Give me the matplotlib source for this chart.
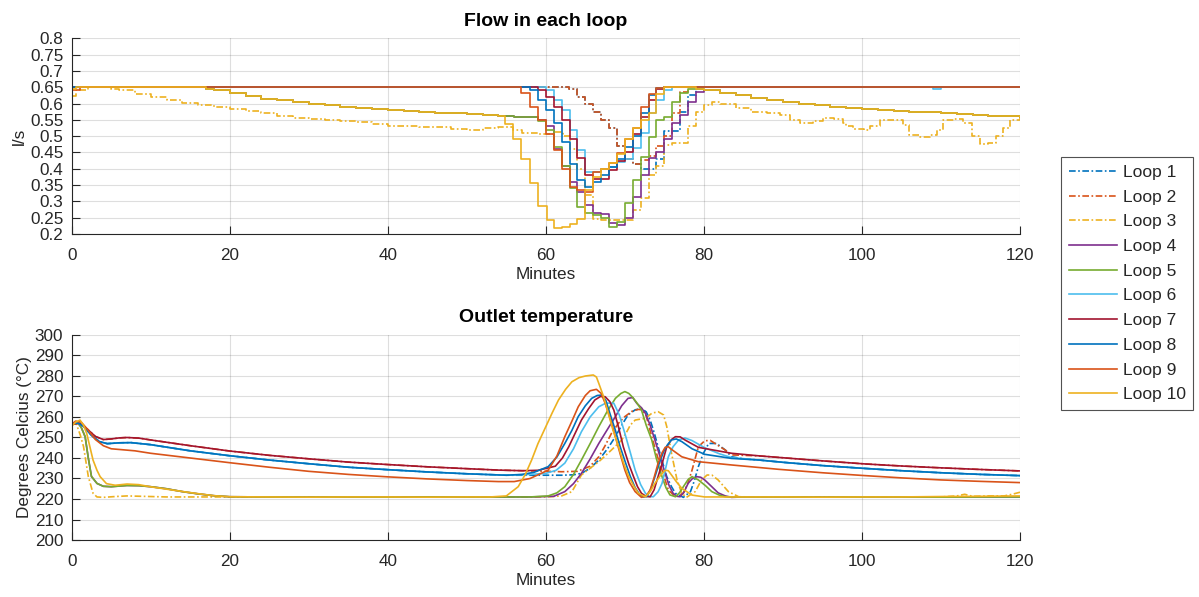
import numpy as np
import matplotlib
matplotlib.use('Agg')
import matplotlib.pyplot as plt

plt.rcParams['font.family'] = ['Liberation Sans', 'DejaVu Sans']

labels = ['Loop %d' % i for i in range(1, 11)]
colors = ['#0072BD', '#D95319', '#EDB120', '#7E2F8E', '#77AC30',
          '#4DBEEE', '#A2142F', '#0072BD', '#D95319', '#EDB120']

# ---------------- flow (l/s), stepped ----------------
flow_pre_t = [16, 17, 18, 20, 22, 24, 26, 28, 30, 32, 34, 36, 38, 40, 42, 44, 46, 48, 50, 52, 54]
flow_pre = [0.65, 0.645, 0.64, 0.632, 0.622, 0.615, 0.61, 0.604, 0.598, 0.594, 0.59, 0.586,
            0.583, 0.58, 0.577, 0.574, 0.572, 0.57, 0.568, 0.566, 0.563]
flow_post_t = [80, 82, 84, 86, 88, 90, 92, 94, 96, 98, 100, 102, 104, 106, 108, 110, 112, 114, 116, 118, 120]
flow_post = [0.64, 0.632, 0.625, 0.618, 0.61, 0.605, 0.60, 0.595, 0.589, 0.586, 0.583, 0.58,
             0.578, 0.575, 0.573, 0.571, 0.569, 0.566, 0.563, 0.561, 0.558]

flow1_t = [0, 62.9, 63.9, 65, 66, 67, 68, 69, 70, 71, 72, 73, 74, 75, 76, 77, 78, 79, 80, 120]
flow1 = [0.65, 0.645, 0.62, 0.60, 0.575, 0.55, 0.525, 0.47, 0.43, 0.415, 0.40, 0.40, 0.43,
         0.515, 0.515, 0.575, 0.627, 0.645, 0.65, 0.65]
flow2_t = [0, 62.9, 63.9, 65, 66, 67, 68, 69, 70, 71, 72, 73, 74, 75, 76, 77, 78, 120]
flow2 = [0.65, 0.645, 0.62, 0.60, 0.575, 0.55, 0.525, 0.47, 0.43, 0.415, 0.427, 0.44, 0.47,
         0.50, 0.57, 0.636, 0.65, 0.65]
flow3_t = [0, 0.5, 2, 5, 6, 8, 10, 12, 14, 16, 18, 20, 22, 24, 26, 28, 30, 32, 34, 36,
           38, 40, 42, 44, 46, 48, 50, 52, 54, 55.9, 57, 59, 61, 62.2, 63, 64, 65, 66, 67, 71,
           72, 73, 74, 75, 76, 78, 79, 80, 81, 82, 84, 86, 88, 89.6, 90.9, 92.2, 93.8, 95.1, 96.4, 97.6,
           98, 98.9, 100.2, 101, 102.3, 104, 105.2, 106, 107.3, 108.6, 109.5, 110.3, 111.6, 112.8, 113.9,
           114.9, 116, 117, 117.9, 118.7, 120]
flow3 = [0.622, 0.64, 0.65, 0.645, 0.64, 0.63, 0.62, 0.61, 0.603, 0.595, 0.59, 0.583, 0.577, 0.57,
         0.563, 0.557, 0.553, 0.549, 0.546, 0.542, 0.538, 0.532, 0.53, 0.528, 0.527, 0.522, 0.518,
         0.524, 0.527, 0.519, 0.51, 0.508, 0.512, 0.50, 0.46, 0.40, 0.32, 0.245, 0.243, 0.274,
         0.31, 0.38, 0.41, 0.473, 0.48, 0.53, 0.575, 0.595, 0.605, 0.60, 0.585, 0.575, 0.57, 0.565,
         0.55, 0.54, 0.545, 0.555, 0.553, 0.54, 0.53, 0.522, 0.52, 0.53, 0.55, 0.548, 0.535, 0.504,
         0.497, 0.504, 0.52, 0.55, 0.552, 0.54, 0.50, 0.476, 0.478, 0.50, 0.524, 0.55, 0.557]
flow4_dip_t = [56, 59, 60, 61, 62, 63, 64, 65, 66, 67, 68, 69, 70, 71, 72, 73, 74, 75, 76, 77, 78, 79]
flow4_dip = [0.56, 0.55, 0.53, 0.462, 0.41, 0.36, 0.33, 0.29, 0.265, 0.26, 0.235, 0.227, 0.25,
             0.314, 0.38, 0.432, 0.45, 0.49, 0.54, 0.565, 0.605, 0.635]
flow5_dip_t = [56, 59, 60, 61, 62, 63, 64, 65, 66, 67, 68, 69, 70, 71, 72, 73, 74, 75, 76, 77, 78, 79]
flow5_dip = [0.56, 0.545, 0.52, 0.468, 0.407, 0.34, 0.283, 0.265, 0.258, 0.25, 0.222, 0.237,
             0.294, 0.365, 0.437, 0.498, 0.55, 0.56, 0.605, 0.633, 0.645, 0.645]
flow6_t = [0, 60, 61, 62, 63, 64, 65, 66, 67, 68, 69, 70, 71, 72, 73, 74, 75, 76, 109, 110, 120]
flow6 = [0.65, 0.64, 0.61, 0.58, 0.52, 0.458, 0.39, 0.39, 0.40, 0.405, 0.42, 0.43, 0.465, 0.51,
         0.57, 0.61, 0.64, 0.65, 0.645, 0.65, 0.65]
flow7_t = [0, 59, 60, 61, 62, 63, 64, 65, 66, 67, 68, 69, 70, 71, 72, 73, 74, 75, 120]
flow7 = [0.65, 0.64, 0.62, 0.59, 0.55, 0.49, 0.432, 0.38, 0.37, 0.37, 0.395, 0.425, 0.45, 0.508,
         0.56, 0.61, 0.645, 0.65, 0.65]
flow8_t = [0, 58, 59, 60, 61, 62, 63, 64, 65, 66, 67, 68, 69, 70, 71, 72, 73, 74, 75, 120]
flow8 = [0.65, 0.64, 0.61, 0.58, 0.54, 0.483, 0.416, 0.365, 0.345, 0.36, 0.38, 0.406, 0.43,
         0.467, 0.50, 0.57, 0.625, 0.647, 0.65, 0.65]
flow9_t = [0, 1, 56.9, 58, 59, 60, 61, 62, 63, 64, 65, 66, 67, 68, 69, 70, 71, 72, 73, 74, 75, 120]
flow9 = [0.64, 0.65, 0.631, 0.59, 0.55, 0.508, 0.457, 0.398, 0.345, 0.335, 0.33, 0.39, 0.40,
         0.417, 0.447, 0.49, 0.524, 0.588, 0.63, 0.647, 0.65, 0.65]
flow10_dip_t = [54.8, 55.9, 56.9, 58, 59, 60.1, 61, 62, 63, 64, 65, 66, 67, 68, 69, 70, 71, 72,
                73, 74, 75, 79]
flow10_dip = [0.537, 0.49, 0.43, 0.355, 0.285, 0.243, 0.219, 0.222, 0.23, 0.245, 0.335, 0.375,
              0.40, 0.417, 0.445, 0.49, 0.524, 0.55, 0.57, 0.63, 0.65, 0.645]

flow4_t = [0] + flow_pre_t + flow4_dip_t + flow_post_t
flow4 = [0.65] + flow_pre + flow4_dip + flow_post
flow5_t = [0] + flow_pre_t + flow5_dip_t + flow_post_t
flow5 = [0.65] + flow_pre + flow5_dip + flow_post
flow10_t = [0, 0.5] + flow_pre_t + flow10_dip_t + flow_post_t
flow10 = [0.645, 0.65] + flow_pre + flow10_dip + flow_post

# ---------------- outlet temperature (deg C) ----------------
temp_blue_pre_t = [0, 0.8, 1.5, 2.5, 3.5, 4.5, 6, 7.5, 10, 15, 20, 25, 30, 35, 40, 45, 50, 55]
temp_blue_pre = [257, 257, 255.5, 251, 248, 247, 247.4, 247.5, 246.5, 243.5, 241.1, 239, 237.2,
                 235.5, 234.3, 233.2, 232.3, 231.6]
temp_blue_post_t = [87, 90, 95, 100, 105, 110, 115, 120]
temp_blue_post = [239, 237.9, 236.3, 235, 233.8, 232.8, 232, 231.4]
temp_red_pre_t = [0, 1, 2, 3, 4, 5, 6, 7, 8.5, 10, 15, 20, 25, 30, 35, 40, 45, 50, 54]
temp_red_pre = [256.5, 257, 254, 250.5, 249, 249.3, 249.8, 250, 249.7, 248.8, 246, 243.4, 241.3,
                239.6, 238, 236.8, 235.7, 234.8, 234.1]
temp_red_post_t = [87.1, 89.4, 95, 100.4, 105, 110, 115, 120]
temp_red_post = [241, 240.3, 238.6, 237.1, 236.1, 235.2, 234.4, 233.7]
temp_low_pre_t = [0, 0.8, 1.2, 1.7, 2.1, 2.5, 3.2, 4, 5, 6, 7, 8.5, 10, 12, 14, 16, 18, 20, 25,
                  30, 35, 40, 45, 50, 55]
temp_low_pre = [256.5, 257, 255, 250.4, 240, 231, 227.6, 226.2, 226, 226.3, 226.6, 226.5, 226, 225,
                223.6, 222.5, 221.6, 221.1, 221, 220.9, 221, 220.9, 221, 221, 221]
temp_low_post_t = [85, 90, 95, 100, 105, 110, 115, 120]
temp_low_post = [221, 221, 220.9, 221, 221, 220.9, 221, 221]

temp1_dip_t = [62, 63.5, 64.5, 65.6, 66.7, 67.8, 68.8, 69.6, 70.4, 71.3, 72.1, 72.7, 73.2, 73.7,
               74.2, 74.8, 75.3, 75.9, 76.4, 77.4, 78.3, 78.8, 79.3, 79.9, 80.6, 81.6, 82.7, 83.5, 85]
temp1_dip = [231.6, 231.8, 232.5, 235, 239, 244.5, 250.4, 256, 261, 263.5, 264.2, 262.5, 258.5,
             252.5, 245.5, 237.5, 230.9, 226, 222.8, 220.8, 223.6, 229, 235.8, 242, 247.1, 247.1,
             243.9, 240.6, 239.6]
temp2_dip_t = [57, 60.3, 62, 64, 65.6, 66.7, 67.5, 68.3, 69.2, 70, 70.9, 71.7, 72.2, 72.7, 73.4,
               74.1, 74.7, 75.5, 76.4, 77.4, 78, 78.5, 79.3, 80.1, 80.8, 81.4, 82.7, 83.5, 85]
temp2_dip = [233.8, 233.5, 233.3, 233.5, 236, 240.6, 246, 252, 257, 260.2, 262.8, 263.7, 263.5,
             260.5, 250.4, 241, 234.1, 224.4, 221.1, 222.8, 228, 234.1, 245.5, 248.4, 248.6, 247.1,
             243.9, 241.5, 241.3]
temp3_t = [0, 0.3, 0.6, 1.1, 1.5, 2.1, 2.7, 3.2, 4, 5.5, 7, 9, 12, 20, 30, 40, 50, 60, 62, 63.3,
           64.5, 65.6, 66.7, 67.5, 68.3, 69, 69.6, 70.2, 70.7, 71.3, 72, 72.6, 73.4, 74.2, 74.9, 75.3,
           75.9, 76.6, 77.2, 77.8, 78.9, 79.7, 80.4, 81, 81.8, 83.1, 84.4, 86, 90, 100, 110, 112, 113,
           114, 116, 118, 119, 120]
temp3 = [256, 257, 256.5, 251, 245.5, 231, 222.8, 221, 220.8, 221.2, 221.5, 221.3, 221, 221, 220.9,
         221, 221, 221, 221.5, 223.6, 231.7, 235, 238.2, 241, 243.9, 246.5, 248.8, 252.5, 256.1, 258.5,
         259, 259.3, 261.8, 262.6, 261, 255.3, 242.3, 229.3, 222.8, 220.8, 223.6, 229.3, 231.7, 231.7,
         229.3, 223.6, 221.1, 221, 221, 221, 221, 221.5, 222.3, 221.3, 221.5, 221.5, 222.3, 223.3]
temp4_dip_t = [58, 61, 62.4, 63.5, 64.5, 65.6, 66.7, 67.8, 68.8, 69.6, 70.4, 71, 71.5, 72.1, 72.6,
               73.2, 73.8, 74.5, 75.1, 75.6, 76.1, 76.6, 77, 77.5, 78, 78.5, 79.1, 79.6, 80.1, 81,
               81.8, 82.7, 83.5]
temp4_dip = [221, 221.3, 223.6, 227.5, 232.5, 239.5, 247.1, 254, 260.2, 265.5, 269.1, 269.5, 266.7,
             264.5, 261.8, 256, 248.8, 240, 232.5, 226.5, 222.8, 221.3, 221.1, 223.5, 227.6, 229.8,
             230.9, 230.6, 229.3, 226, 223, 221.5, 220.8]
temp5_dip_t = [58, 60.3, 61.4, 62.4, 63.5, 64.5, 65.6, 66.7, 67.8, 68.8, 69.5, 70, 70.5, 70.9, 71.5,
               72.1, 72.7, 73.4, 74, 74.7, 75.2, 75.7, 76.4, 76.9, 77.4, 78, 78.5, 79.3, 80.2, 81,
               82, 82.7]
temp5_dip = [221, 221.5, 223, 226, 232, 239, 247, 255.3, 263, 269.1, 271.5, 272.4, 271.5, 269.9, 267,
             263.4, 256, 248.8, 239.5, 230.9, 225.5, 222, 221.1, 223, 226, 229.5, 230.9, 229.3, 226.5,
             223.6, 221.8, 221.1]
temp6_dip_t = [58, 60, 61.3, 62.4, 63.5, 64.5, 65.6, 66.7, 67.6, 68.6, 69.3, 70, 70.7, 71.3, 72,
               72.6, 73.1, 73.6, 74.2, 74.7, 75.1, 75.5, 76.1, 76.8, 77.6, 78.5, 80.1, 82, 83.5]
temp6_dip = [232, 232.5, 234, 237.5, 244.5, 252.8, 260, 265, 266.8, 266.7, 261, 252, 242.5, 234.1,
             227, 222.8, 221.2, 221.1, 223.5, 227.6, 234, 240.6, 245.5, 248.8, 249.8, 248.5, 245, 242,
             240.2]
temp7_dip_t = [57, 59, 61.2, 62.1, 62.9, 63.7, 64.5, 65.4, 66.2, 66.9, 67.5, 68.1, 68.6, 69.2, 69.8,
               70.5, 71.1, 71.6, 72.1, 72.7, 73.2, 73.7, 74.2, 74.8, 75.3, 75.9, 76.4, 77, 77.6, 79.3,
               83.5]
temp7_dip = [233.8, 234, 236, 240, 245.5, 252, 258.5, 264, 268.3, 270, 269.9, 267.5, 263.4, 255,
             245.5, 237, 230.9, 226, 222.8, 221.2, 221.1, 224.5, 230.9, 238.5, 245.5, 249, 250.4,
             250.3, 248.8, 245.2, 242.3]
temp8_dip_t = [57, 58.5, 60.3, 61.4, 62.4, 63.3, 64.1, 65, 65.8, 66.5, 67.1, 67.6, 68.1, 68.8, 69.4,
               70.1, 70.7, 71.3, 71.9, 72.4, 72.8, 73.3, 73.8, 74.4, 74.9, 75.4, 75.9, 76.5, 77.2,
               78.5, 80.1, 83.5]
temp8_dip = [232, 233, 235.8, 240.5, 247.1, 253.5, 260.2, 265.5, 269.1, 270.5, 270.7, 268, 261.8,
             253.5, 245.5, 237.5, 230.9, 225.5, 222, 221, 221.3, 225, 230.9, 238, 243.1, 246.5, 248.8,
             249.3, 248, 244.5, 241.8, 239.8]
temp9_t = [0, 0.5, 1.2, 2, 3, 4, 5, 6.5, 8, 10, 15, 20, 25, 30, 35, 40, 45, 50, 54, 56, 58, 60.3,
           61.4, 62.4, 63.3, 64.1, 65, 65.6, 66.4, 67, 67.5, 68.2, 68.8, 69.4, 70, 70.6, 71.3, 72.1,
           72.7, 73.2, 73.7, 74.2, 74.7, 75.1, 75.5, 75.9, 77.2, 79.3, 83.5, 89.4, 95, 100, 105, 110,
           115, 120]
temp9 = [256.5, 258, 257.5, 254, 249, 246, 244.5, 244, 243.5, 242.3, 240, 237.7, 235.5, 233.5, 232,
         230.8, 229.8, 229, 228.5, 228.5, 230, 234.1, 241, 250.4, 258, 265, 270.5, 272.8, 273.5,
         271.5, 266.7, 258.5, 250.4, 242, 234.1, 228, 223.6, 220.8, 221.5, 224.4, 230.5, 237.4,
         242.5, 245.2, 245.5, 244.2, 240.6, 238.2, 236.6, 234.5, 232.8, 231.5, 230.3, 229.3, 228.6, 228]
temp10_t = [0, 0.5, 1.05, 1.5, 1.9, 2.3, 2.7, 3.2, 3.6, 4.4, 5.5, 7, 8.5, 9.9, 12, 14.1, 16, 18, 20,
            25, 30, 35, 40, 45, 50, 53, 55, 56.5, 57.4, 58.2, 59, 59.9, 60.8, 61.6, 62.5, 63.3, 64.2,
            65, 66, 66.4, 66.7, 67.3, 67.9, 68.5, 69.2, 69.8, 70.4, 71.1, 71.7, 72.6, 73.2, 73.8, 74.5,
            75.1, 75.5, 75.9, 76.5, 77.2, 78.5, 80.1, 85, 90, 95, 100, 105, 110, 115, 120]
temp10 = [255.5, 257.5, 258.5, 256, 252, 245.5, 239, 234, 230.9, 227.5, 226.7, 227.3, 227, 226,
          224.8, 223.6, 222.6, 221.6, 221.1, 221, 220.9, 221, 221, 220.9, 221, 221, 221.5, 226, 232,
          239, 247, 254.5, 262, 268.3, 273.5, 277.2, 279.2, 280, 280.5, 279.5, 276.4, 270, 261.8,
          253.5, 245.5, 238, 231.7, 226.5, 222.8, 221.1, 223.5, 227.6, 231.5, 234, 233.8, 231.7,
          228.5, 225.2, 221.9, 221, 221, 221, 220.9, 221, 221, 221.2, 221.3, 221.5]

temp1_t = temp_blue_pre_t + temp1_dip_t + temp_blue_post_t
temp1 = temp_blue_pre + temp1_dip + temp_blue_post
temp2_t = temp_red_pre_t + temp2_dip_t + temp_red_post_t
temp2 = temp_red_pre + temp2_dip + temp_red_post
temp4_t = temp_low_pre_t + temp4_dip_t + temp_low_post_t
temp4 = temp_low_pre + temp4_dip + temp_low_post
temp5_t = temp_low_pre_t + temp5_dip_t + temp_low_post_t
temp5 = temp_low_pre + temp5_dip + temp_low_post
temp6_t = temp_blue_pre_t + temp6_dip_t + temp_blue_post_t
temp6 = temp_blue_pre + temp6_dip + temp_blue_post
temp7_t = temp_red_pre_t + temp7_dip_t + temp_red_post_t
temp7 = temp_red_pre + temp7_dip + temp_red_post
temp8_t = temp_blue_pre_t + temp8_dip_t + temp_blue_post_t
temp8 = temp_blue_pre + temp8_dip + temp_blue_post

flows = [(flow1_t, flow1), (flow2_t, flow2), (flow3_t, flow3), (flow4_t, flow4), (flow5_t, flow5),
         (flow6_t, flow6), (flow7_t, flow7), (flow8_t, flow8), (flow9_t, flow9), (flow10_t, flow10)]
temps = [(temp1_t, temp1), (temp2_t, temp2), (temp3_t, temp3), (temp4_t, temp4), (temp5_t, temp5),
         (temp6_t, temp6), (temp7_t, temp7), (temp8_t, temp8), (temp9_t, temp9), (temp10_t, temp10)]

dashdot = (0, (4, 1.5, 1, 1.5))
styles = [dashdot] * 3 + ['-'] * 7

axcol = '#262626'

fig = plt.figure(figsize=(11.99, 5.97), dpi=100)
W, H = 1199.0, 597.0
ax1 = fig.add_axes([71.7 / W, (H - 234) / H, (1020 - 71.7) / W, (234 - 38.3) / H])
ax2 = fig.add_axes([71.7 / W, (H - 540) / H, (1020 - 71.7) / W, (540 - 335) / H])

handles = []
for i in range(10):
    t, q = flows[i]
    h, = ax1.plot(t, q, drawstyle='steps-post', color=colors[i], linestyle=styles[i], lw=1.2)
    handles.append(h)
    t, v = temps[i]
    ax2.plot(t, v, color=colors[i], linestyle=styles[i], lw=1.2)


def fmt(v):
    s = ('%.2f' % v).rstrip('0').rstrip('.')
    return s


for ax in (ax1, ax2):
    ax.set_xlim(0, 120)
    ax.set_xticks(range(0, 121, 20))
    ax.grid(True, color=axcol, alpha=0.15, lw=0.8)
    ax.set_axisbelow(True)
    for s in ('top', 'right'):
        ax.spines[s].set_visible(False)
    for s in ('left', 'bottom'):
        ax.spines[s].set_color(axcol)
        ax.spines[s].set_linewidth(0.8)
    ax.tick_params(direction='in', length=6, width=0.8, colors=axcol, labelsize=12.3)
    ax.tick_params(axis='x', pad=10)
    ax.tick_params(axis='y', pad=6)
    ax.set_xlabel('Minutes', fontsize=12.3, color=axcol, labelpad=3)

yt1 = np.arange(0.2, 0.801, 0.05)
ax1.set_ylim(0.2, 0.8)
ax1.set_yticks(yt1)
ax1.set_yticklabels([fmt(v) for v in yt1])
ax1.set_ylabel('l/s', fontsize=12.3, color=axcol, labelpad=2)
ax1.set_title('Flow in each loop', fontsize=14, fontweight='bold', color='black', pad=9)

ax2.set_ylim(200, 300)
ax2.set_yticks(range(200, 301, 10))
ax2.set_ylabel('Degrees Celcius (\u00b0C)', fontsize=12.3, color=axcol, labelpad=2)
ax2.set_title('Outlet temperature', fontsize=14, fontweight='bold', color='black', pad=9)

leg = fig.legend(handles, labels, loc='upper left', bbox_to_anchor=(1061 / W, 1 - 157 / H),
                 fontsize=12.5, frameon=True, fancybox=False, edgecolor=axcol, borderaxespad=0,
                 handlelength=2.8, handletextpad=0.3, labelspacing=0.55, borderpad=0.45)
leg.get_frame().set_linewidth(0.8)
for txt in leg.get_texts():
    txt.set_color(axcol)

fig.savefig('out.png', dpi=100)
